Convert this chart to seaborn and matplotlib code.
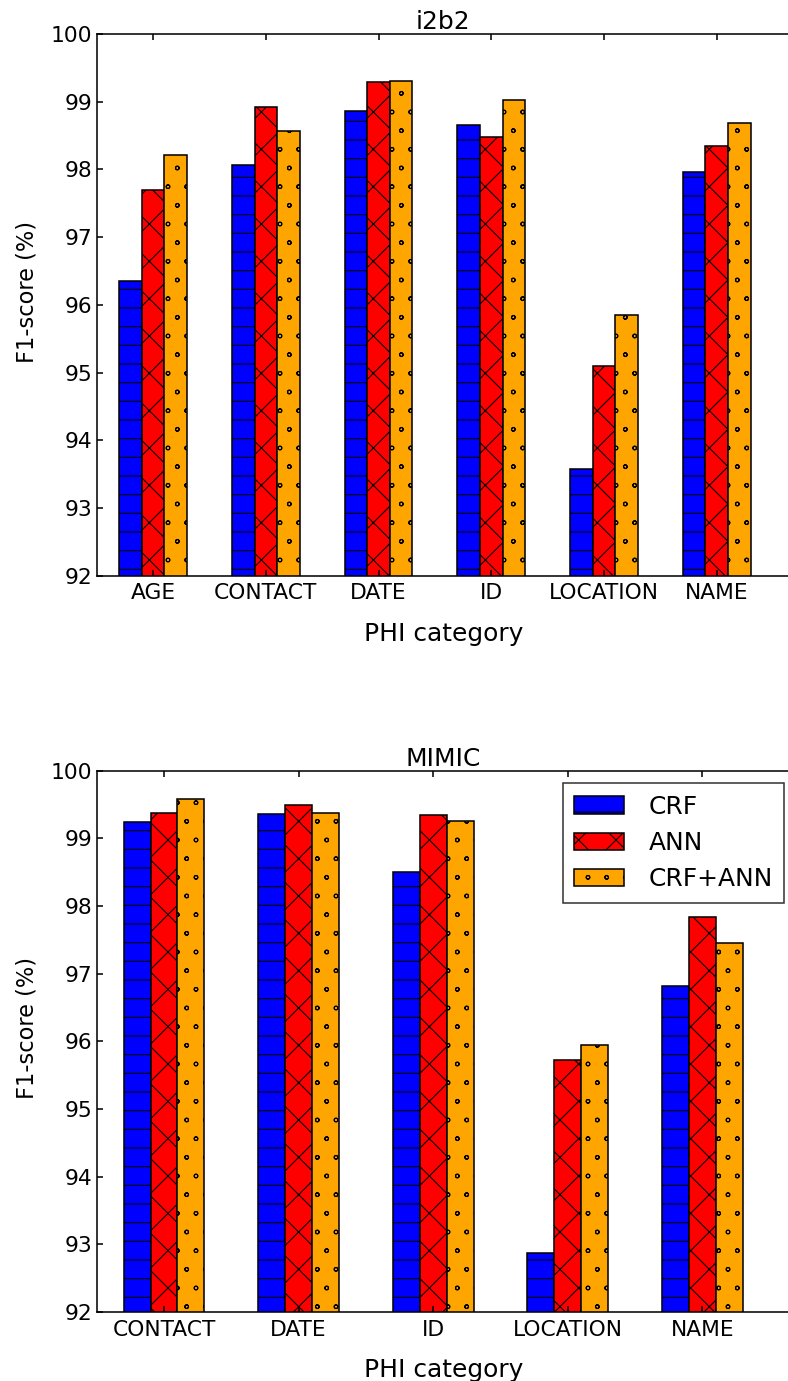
import numpy as np
import pandas as pd
import matplotlib
matplotlib.use("Agg")
import matplotlib.pyplot as plt
import matplotlib.hatch as mhatch
import seaborn as sns

# ---- data ----
methods = ["CRF", "ANN", "CRF+ANN"]

i2b2_categories = ["AGE", "CONTACT", "DATE", "ID", "LOCATION", "NAME"]
i2b2_crf = [96.35, 98.07, 98.87, 98.65, 93.58, 97.96]
i2b2_ann = [97.69, 98.92, 99.29, 98.48, 95.10, 98.34]
i2b2_crf_ann = [98.21, 98.57, 99.30, 99.02, 95.85, 98.68]

mimic_categories = ["CONTACT", "DATE", "ID", "LOCATION", "NAME"]
mimic_crf = [99.24, 99.36, 98.51, 92.87, 96.82]
mimic_ann = [99.37, 99.49, 99.34, 95.72, 97.84]
mimic_crf_ann = [99.58, 99.37, 99.26, 95.94, 97.46]

y_ticks = [92, 93, 94, 95, 96, 97, 98, 99, 100]

colors = ["#0000ff", "#ff0000", "#ffa500"]
hatches = ["-", "x", "o"]

# smaller hollow circles, as in the original hatch style
mhatch.SmallCircles.size = 0.1

plt.rcParams["font.family"] = ["DejaVu Sans"]
plt.rcParams["hatch.linewidth"] = 0.7
plt.rcParams["axes.linewidth"] = 1.0


def long_frame(cats, a, b, c):
    rows = []
    for m, vals in zip(methods, [a, b, c]):
        for cat, v in zip(cats, vals):
            rows.append({"category": cat, "method": m, "score": v})
    return pd.DataFrame(rows)


W, H, DPI = 788, 1381, 112
fig = plt.figure(figsize=(W / DPI, H / DPI), dpi=DPI)

left_px, right_px = 96.7, 790.0
panels = [
    ("i2b2", i2b2_categories, (i2b2_crf, i2b2_ann, i2b2_crf_ann), 34.0, 575.7, False),
    ("MIMIC", mimic_categories, (mimic_crf, mimic_ann, mimic_crf_ann), 770.7, 1312.0, True),
]

for title, cats, vals, top_px, bot_px, show_legend in panels:
    ax = fig.add_axes([left_px / W, 1 - bot_px / H,
                       (right_px - left_px) / W, (bot_px - top_px) / H])
    df = long_frame(cats, *vals)
    sns.barplot(data=df, x="category", y="score", hue="method",
                order=cats, hue_order=methods, palette=colors,
                width=0.6, edgecolor="black", linewidth=1.0,
                saturation=1, errorbar=None, legend=False, ax=ax)
    for cont, h in zip(ax.containers, hatches):
        for p in cont.patches:
            p.set_hatch(h)
            p.set_edgecolor("black")
    ax.set_ylim(92, 100)
    ax.set_yticks(y_ticks)
    ax.set_xlim(-0.5, len(cats) - 0.35)
    ax.tick_params(axis="both", which="major", direction="in", length=4,
                   width=1, labelsize=14, top=True, right=False, pad=3)
    ax.tick_params(axis="x", pad=5)
    ax.set_xlabel("PHI category", fontsize=16, labelpad=12)
    ax.set_ylabel("F1-score (%)", fontsize=14.5)
    ax.yaxis.set_label_coords(-0.084, 0.524)
    ax.set_title(title, fontsize=16, pad=3)
    for s in ax.spines.values():
        s.set_color("black")
        s.set_visible(True)
    if show_legend:
        leg = ax.legend(handles=list(ax.containers), labels=methods,
                        loc="upper right",
                        bbox_to_anchor=(784.3 / W, 1 - 783.3 / H),
                        bbox_transform=fig.transFigure, borderaxespad=0,
                        fontsize=16, fancybox=False, frameon=True,
                        handlelength=2.0, handleheight=0.7,
                        handletextpad=1.0, labelspacing=0.5, borderpad=0.45)
        leg.get_frame().set_edgecolor("black")
        leg.get_frame().set_linewidth(1.0)

fig.savefig("out.png", dpi=DPI)
